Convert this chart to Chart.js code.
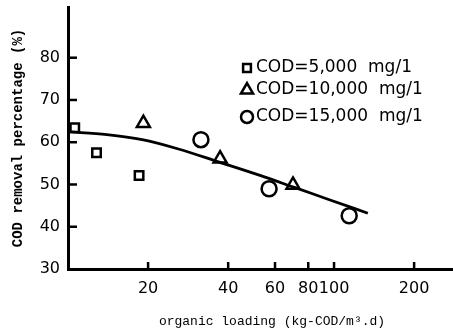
<!DOCTYPE html>
<html>
<head>
<meta charset="utf-8">
<script src="https://cdn.jsdelivr.net/npm/chart.js@4.4.1/dist/chart.umd.min.js"></script>
<style>
  body { margin: 0; background: #fff; }
</style>
</head>
<body>
<canvas id="grafico" width="453" height="329"></canvas>
<script>
// organic loading (kg-COD/m3.d) vs COD removal (%)
const cod5000X = [10.6, 12.8, 18.5];
const cod5000Y = [63.4, 57.5, 52.1];
const cod10000X = [19.2, 37.3, 70.1];
const cod10000Y = [64.5, 56.1, 49.9];
const cod15000X = [31.6, 57.0, 114];
const cod15000Y = [60.6, 49.0, 42.6];

// fitted curve
const curvaX = [10, 14, 19, 26, 37, 53, 71, 96, 134];
const curvaY = [62.5, 61.8, 60.6, 58.4, 55.3, 52.1, 49.3, 46.4, 43.2];

const xTicks = [20, 40, 60, 80, 100, 200];
const yTicks = [30, 40, 50, 60, 70, 80];

const legendas = ['COD=5,000  mg/1', 'COD=10,000  mg/1', 'COD=15,000  mg/1'];
const tituloX = 'organic loading (kg-COD/m\u00b3.d)';
const tituloY = 'COD removal percentage (%)';

function pares(xs, ys) {
    return xs.map((x, i) => ({ x: x, y: ys[i] }));
}

// inner tick marks, legend and x title
const extras = {
    id: 'extras',
    afterDraw(chart) {
        const ctx = chart.ctx;
        const area = chart.chartArea;
        const sx = chart.scales.x, sy = chart.scales.y;
        ctx.save();
        ctx.fillStyle = '#000';
        xTicks.forEach(v => {
            const px = sx.getPixelForValue(v);
            ctx.fillRect(px - 1.25, area.bottom - 7, 2.5, 7);
        });
        yTicks.slice(1).forEach(v => {
            const py = sy.getPixelForValue(v);
            ctx.fillRect(area.left, py - 1.25, 9, 2.5);
        });

        // legend
        const linhas = [68, 90, 117];
        const estilos = [
            { pointStyle: 'rect', radius: 5.5, borderWidth: 2.5 },
            { pointStyle: 'triangle', radius: 7, borderWidth: 2.5 },
            { pointStyle: 'circle', radius: 6, borderWidth: 2.5 }
        ];
        ctx.strokeStyle = '#000';
        ctx.font = '17px "DejaVu Sans"';
        ctx.textBaseline = 'middle';
        ctx.textAlign = 'left';
        legendas.forEach((txt, i) => {
            ctx.fillStyle = '#fff';
            Chart.helpers.drawPoint(ctx, estilos[i], 247, linhas[i]);
            ctx.fillStyle = '#000';
            ctx.fillText(txt, 256, linhas[i]);
        });

        ctx.font = '13px "Liberation Mono"';
        ctx.textAlign = 'center';
        ctx.fillText(tituloX, 272, 322);
        ctx.restore();
    }
};

const marcador = {
    type: 'scatter',
    borderColor: '#000',
    backgroundColor: '#fff',
    borderWidth: 2.5,
    showLine: false,
    clip: false
};

new Chart(document.getElementById('grafico'), {
    type: 'scatter',
    data: {
        datasets: [
            {
                type: 'line',
                label: 'fit',
                data: pares(curvaX, curvaY),
                borderColor: '#000',
                borderWidth: 2.8,
                pointRadius: 0,
                cubicInterpolationMode: 'monotone',
                fill: false
            },
            Object.assign({}, marcador, {
                label: legendas[0],
                data: pares(cod5000X, cod5000Y),
                pointStyle: 'rect',
                pointRadius: 6
            }),
            Object.assign({}, marcador, {
                label: legendas[1],
                data: pares(cod10000X, cod10000Y),
                pointStyle: 'triangle',
                pointRadius: 7.5
            }),
            Object.assign({}, marcador, {
                label: legendas[2],
                data: pares(cod15000X, cod15000Y),
                pointStyle: 'circle',
                pointRadius: 7.5
            })
        ]
    },
    options: {
        responsive: false,
        animation: false,
        layout: { autoPadding: false, padding: { top: 7, right: 0, left: 0, bottom: 0 } },
        plugins: {
            legend: { display: false },
            tooltip: { enabled: false }
        },
        scales: {
            x: {
                type: 'logarithmic',
                min: 10,
                max: 280,
                afterBuildTicks: s => { s.ticks = xTicks.map(v => ({ value: v })); },
                afterFit: s => { s.height = 60; s.paddingLeft = 0; s.paddingRight = 0; },
                grid: { display: false, drawTicks: false },
                border: { display: true, color: '#000', width: 3 },
                ticks: {
                    autoSkip: false,
                    maxRotation: 0,
                    padding: 10,
                    color: '#000',
                    font: { family: 'DejaVu Sans', size: 16 },
                    callback: v => String(v)
                }
            },
            y: {
                type: 'linear',
                min: 30,
                max: 92,
                afterBuildTicks: s => { s.ticks = yTicks.map(v => ({ value: v })); },
                afterFit: s => { s.width = 68; s.paddingTop = 0; s.paddingBottom = 0; },
                grid: { display: false, drawTicks: false },
                border: { display: true, color: '#000', width: 3 },
                ticks: {
                    padding: 8,
                    color: '#000',
                    font: { family: 'DejaVu Sans', size: 16 },
                    callback: v => String(v)
                },
                title: {
                    display: true,
                    text: tituloY,
                    color: '#000',
                    padding: { top: 10, bottom: 0 },
                    font: { family: 'Liberation Mono', size: 14, weight: 'bold' }
                }
            }
        }
    },
    plugins: [extras]
});
</script>
</body>
</html>
